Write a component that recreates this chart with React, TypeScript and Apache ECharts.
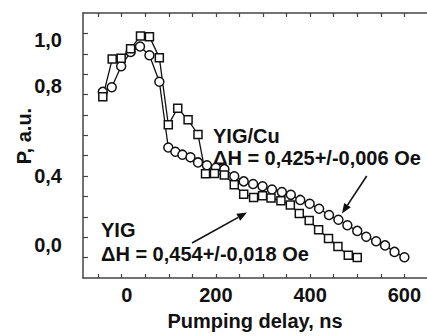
import React, { useEffect, useRef } from 'react';
import * as echarts from 'echarts';

// YIG/Cu (circles)
const circleX = [-40, -21, -1, 19, 39, 59, 80, 99, 114, 129, 146, 162, 181, 200, 218, 239, 259, 279, 299, 319, 340, 359, 379, 399, 419, 440, 460, 479, 500, 519, 540, 559, 579, 600];
const circleY = [0.713, 0.736, 0.839, 0.909, 0.936, 0.893, 0.763, 0.440, 0.419, 0.405, 0.392, 0.367, 0.353, 0.341, 0.334, 0.299, 0.274, 0.261, 0.250, 0.234, 0.222, 0.208, 0.183, 0.164, 0.140, 0.109, 0.086, 0.059, 0.031, 0.002, -0.020, -0.040, -0.072, -0.098];

// YIG (squares)
const squareX = [-40, -20, -1, 19, 40, 59, 80, 99, 119, 141, 162, 178, 197, 218, 239, 259, 280, 299, 317, 338, 358, 377, 398, 418, 439, 459, 481, 500];
const squareY = [0.689, 0.874, 0.878, 0.925, 0.987, 0.984, 0.881, 0.552, 0.633, 0.576, 0.504, 0.311, 0.313, 0.305, 0.258, 0.211, 0.195, 0.203, 0.193, 0.179, 0.158, 0.117, 0.082, 0.037, -0.006, -0.045, -0.089, -0.100];

const xTickValues = [-50, 0, 50, 100, 150, 200, 250, 300, 350, 400, 450, 500, 550, 600];
const xLabelTexts = ['0', '200', '400', '600'];
const xLabelAt = [11, 200, 400, 600];

const yTickValues = [-0.1, 0, 0.1, 0.2, 0.3, 0.4, 0.5, 0.6, 0.7, 0.8, 0.9, 1.0];
const yLabelTexts = ['1,0', '0,8', '0,4', '0,0'];
const yLabelAt = [0.968, 0.74, 0.30, -0.037];

const FONT = '"Liberation Sans", Arial, sans-serif';
const INK = '#111';
const AXIS = '#444';
const FS = 20;

function arrow(x1: number, y1: number, x2: number, y2: number) {
  const dx = x2 - x1, dy = y2 - y1;
  const len = Math.sqrt(dx * dx + dy * dy);
  const ux = dx / len, uy = dy / len;
  const hl = 10, hw = 4;
  const bx = x2 - ux * hl, by = y2 - uy * hl;
  return [
    { type: 'line', shape: { x1, y1, x2: bx, y2: by }, style: { stroke: INK, lineWidth: 1.6 } },
    {
      type: 'polygon',
      shape: { points: [[x2, y2], [bx - uy * hw, by + ux * hw], [bx + uy * hw, by - ux * hw]] },
      style: { fill: INK },
    },
  ];
}

function labelFor(values: number[], texts: string[], v: number) {
  for (let i = 0; i < values.length; i++) {
    if (Math.abs(values[i] - v) < 1e-6) return texts[i];
  }
  return '';
}

export default function App() {
  const ref = useRef<HTMLDivElement>(null);
  useEffect(() => {
    if (!ref.current) return;
    const chart = echarts.init(ref.current, null, { renderer: 'svg' });
    const textStyle = { fontFamily: FONT, fontWeight: 'bold' as const, fontSize: FS, color: INK };
    const xBase = {
      type: 'value',
      min: -82,
      max: 648,
      splitLine: { show: false },
      axisLine: { show: true, onZero: false, lineStyle: { color: AXIS, width: 1.5 } },
      axisTick: { show: true, inside: true, length: 4, customValues: xTickValues, lineStyle: { color: AXIS, width: 1.2 } },
    };
    chart.setOption({
      animation: false,
      backgroundColor: '#fff',
      grid: { left: 83, right: -5, top: 13, bottom: 48, containLabel: false },
      xAxis: [
        {
          ...xBase,
          position: 'bottom',
          name: 'Pumping delay, ns',
          nameLocation: 'middle',
          nameGap: 33,
          nameTextStyle: { ...textStyle },
          axisLabel: {
            ...textStyle,
            margin: 7,
            customValues: xLabelAt,
            formatter: (v: number) => labelFor(xLabelAt, xLabelTexts, v),
          },
        },
        {
          ...xBase,
          position: 'top',
          axisLabel: { show: false },
        },
      ],
      yAxis: {
        type: 'value',
        min: -0.2,
        max: 1.1,
        splitLine: { show: false },
        axisLine: { show: true, onZero: false, lineStyle: { color: AXIS, width: 1.5 } },
        axisTick: { show: true, inside: true, length: 5, customValues: yTickValues, lineStyle: { color: AXIS, width: 1.2 } },
        axisLabel: {
          ...textStyle,
          margin: 21,
          customValues: yLabelAt,
          formatter: (v: number) => labelFor(yLabelAt, yLabelTexts, v),
        },
      },
      series: [
        {
          name: 'YIG/Cu',
          type: 'line',
          data: circleX.map((x, i) => [x, circleY[i]]),
          symbol: 'circle',
          symbolSize: 9,
          lineStyle: { color: INK, width: 1.3 },
          itemStyle: { color: '#fff', borderColor: INK, borderWidth: 1.5 },
        },
        {
          name: 'YIG',
          type: 'line',
          data: squareX.map((x, i) => [x, squareY[i]]),
          symbol: 'rect',
          symbolSize: 8,
          lineStyle: { color: INK, width: 1.3 },
          itemStyle: { color: '#fff', borderColor: INK, borderWidth: 1.5 },
        },
      ],
      graphic: [
        {
          type: 'text', x: 24, y: 136, rotation: Math.PI / 2,
          style: { text: 'P, a.u.', fill: INK, font: `bold ${FS}px ${FONT}`, align: 'center', verticalAlign: 'middle' },
        },
        {
          type: 'text', x: 213, y: 136,
          style: { text: 'YIG/Cu', fill: INK, font: `bold ${FS}px ${FONT}`, verticalAlign: 'middle' },
        },
        {
          type: 'text', x: 213, y: 158,
          style: { text: 'ΔH = 0,425+/-0,006 Oe', fill: INK, font: `bold ${FS}px ${FONT}`, verticalAlign: 'middle' },
        },
        {
          type: 'text', x: 101, y: 230,
          style: { text: 'YIG', fill: INK, font: `bold ${FS}px ${FONT}`, verticalAlign: 'middle' },
        },
        {
          type: 'text', x: 101, y: 254,
          style: { text: 'ΔH = 0,454+/-0,018 Oe', fill: INK, font: `bold ${FS}px ${FONT}`, verticalAlign: 'middle' },
        },
        ...arrow(366.7, 176, 342, 213.5),
        ...arrow(192, 243, 247, 212.5),
      ],
    });
    return () => chart.dispose();
  }, []);
  return <div ref={ref} style={{ position: 'fixed', left: 0, top: 0, width: 427, height: 336, background: '#fff' }} />;
}
